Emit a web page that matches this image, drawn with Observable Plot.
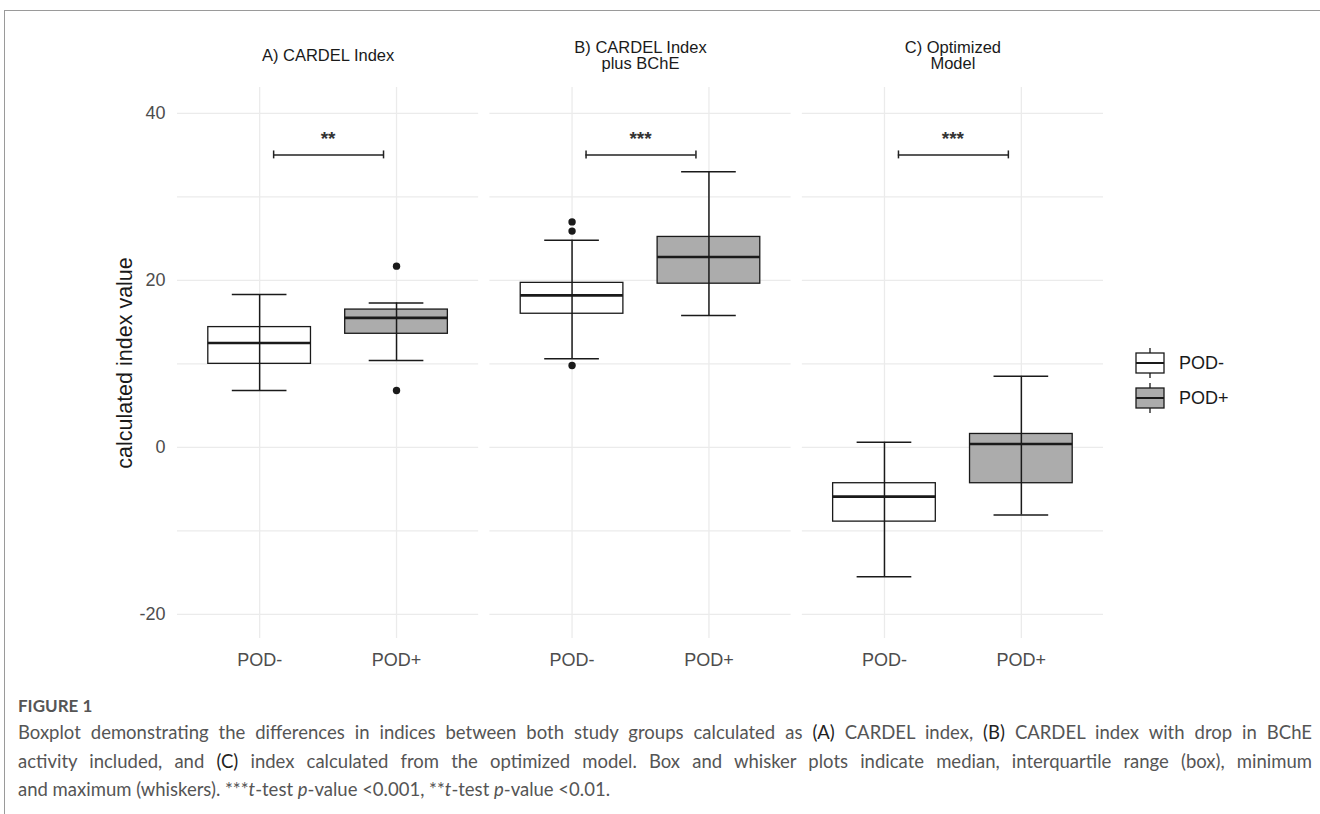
<!DOCTYPE html>
<html>
<head>
<meta charset="utf-8">
<script src="https://cdn.jsdelivr.net/npm/d3@7"></script>
<script src="https://cdn.jsdelivr.net/npm/@observablehq/plot@0.6"></script>
<style>
  html, body { margin: 0; padding: 0; background: #fff; width: 1320px; height: 814px; overflow: hidden; position: relative; }
  #frame { position: absolute; left: 4px; top: 10px; width: 1330px; height: 820px; border-left: 1px solid #9a9a9a; border-top: 1px solid #9a9a9a; }
  #chart { position: absolute; left: 0; top: 0; }
  #legend { position: absolute; left: 1130px; top: 340px; }
  .cap { position: absolute; left: 18px; width: 1294px; font-family: Lato, "Open Sans", sans-serif; font-size: 18.5px; color: #555; line-height: 28.5px; white-space: nowrap; }
  .just { text-align: justify; text-align-last: justify; white-space: normal; }
  .fig { font-weight: 700; font-size: 17px; color: #555; line-height: 28px; }
  .lab { color: #222; }
</style>
</head>
<body>
<div id="frame"></div>
<div id="chart"></div>
<div id="legend"></div>
<div class="cap fig" style="top:692px">FIGURE 1</div>
<div class="cap just" style="top:718px">Boxplot demonstrating the differences in indices between both study groups calculated as <span class="lab">(A)</span> CARDEL index, <span class="lab">(B)</span> CARDEL index with drop in BChE</div>
<div class="cap just" style="top:746.5px">activity included, and <span class="lab">(C)</span> index calculated from the optimized model. Box and whisker plots indicate median, interquartile range (box), minimum</div>
<div class="cap" style="top:775px">and maximum (whiskers). ***<i>t</i>-test <i>p</i>-value &lt;0.001, **<i>t</i>-test <i>p</i>-value &lt;0.01.</div>
<script>
// ---- data ----
const panelKeys = ["A", "B", "C"];
const panelTitles = ["A) CARDEL Index", "B) CARDEL Index\nplus BChE", "C) Optimized\nModel"];
const groups = ["POD-", "POD+"];
const groupFills = ["#ffffff", "#acacac"];

// one entry per box: A POD-, A POD+, B POD-, B POD+, C POD-, C POD+
const boxPanel = ["A", "A", "B", "B", "C", "C"];
const boxGroup = ["POD-", "POD+", "POD-", "POD+", "POD-", "POD+"];
const whiskerLow = [6.8, 10.4, 10.6, 15.8, -15.5, -8.1];
const lowerQuartile = [10.0, 13.6, 16.0, 19.6, -8.9, -4.3];
const medianValue = [12.5, 15.5, 18.2, 22.8, -5.9, 0.4];
const upperQuartile = [14.4, 16.5, 19.7, 25.2, -4.3, 1.6];
const whiskerHigh = [18.3, 17.3, 24.8, 33.0, 0.6, 8.5];

const outlierPanel = ["A", "A", "B", "B", "B"];
const outlierGroup = ["POD+", "POD+", "POD-", "POD-", "POD-"];
const outlierValue = [21.7, 6.8, 27.0, 25.9, 9.8];

const sigLabels = ["**", "***", "***"];
const sigLevel = [35, 35, 35];

const yTickValues = [-20, 0, 20, 40];
const yGridValues = [-20, -10, 0, 10, 20, 30, 40];
const yTitle = "calculated index value";

// ---- tables ----
const boxes = boxPanel.map((p, i) => ({
  panel: p, group: boxGroup[i], low: whiskerLow[i], q1: lowerQuartile[i],
  median: medianValue[i], q3: upperQuartile[i], high: whiskerHigh[i]
}));
const outliers = outlierPanel.map((p, i) => ({panel: p, group: outlierGroup[i], value: outlierValue[i]}));
const sig = panelKeys.map((p, i) => ({panel: p, label: sigLabels[i], level: sigLevel[i], left: groups[0], right: groups[1]}));

const ink = "#1a1a1a";
const gridColor = "#ebebeb";

const chart = Plot.plot({
  width: 1320,
  height: 680,
  marginTop: 87,
  marginBottom: 42,
  marginLeft: 177,
  marginRight: 217,
  style: {fontFamily: '"Liberation Sans", Arial, sans-serif', fontSize: "18px", background: "transparent", overflow: "visible"},
  fx: {domain: panelKeys, paddingInner: 0.036, paddingOuter: 0, axis: null, round: false},
  x: {domain: groups, paddingInner: 0.25, paddingOuter: 0.225, axis: null, round: false},
  y: {domain: [-22.9, 43.1], axis: null},
  color: {domain: groups, range: groupFills},
  marks: [
    Plot.gridY(yGridValues, {stroke: gridColor, strokeOpacity: 1, strokeWidth: 1.3}),
    Plot.gridX(groups, {stroke: gridColor, strokeOpacity: 1, strokeWidth: 1.3}),
    Plot.barY(boxes, {fx: "panel", x: "group", y1: "q1", y2: "q3", fill: "group", stroke: ink, strokeWidth: 1.3}),
    Plot.tickY(boxes, {fx: "panel", x: "group", y: "median", stroke: ink, strokeWidth: 2.6}),
    Plot.ruleX(boxes, {fx: "panel", x: "group", y1: "low", y2: "high", stroke: ink, strokeWidth: 1.5}),
    Plot.tickY(boxes, {fx: "panel", x: "group", y: "low", stroke: ink, strokeWidth: 1.5, insetLeft: 24, insetRight: 24}),
    Plot.tickY(boxes, {fx: "panel", x: "group", y: "high", stroke: ink, strokeWidth: 1.5, insetLeft: 24, insetRight: 24}),
    Plot.dot(outliers, {fx: "panel", x: "group", y: "value", r: 3.7, fill: ink, stroke: null}),
    // significance brackets
    Plot.ruleY(sig, {fx: "panel", y: "level", insetLeft: 96, insetRight: 95, stroke: "#222", strokeWidth: 1.5}),
    Plot.ruleX(sig, {fx: "panel", x: "left", y1: d => d.level - 0.45, y2: d => d.level + 0.5, dx: 14, stroke: "#222", strokeWidth: 1.5}),
    Plot.ruleX(sig, {fx: "panel", x: "right", y1: d => d.level - 0.45, y2: d => d.level + 0.5, dx: -13, stroke: "#222", strokeWidth: 1.5}),
    Plot.text(sig, {fx: "panel", y: d => d.level + 2.0, text: "label", fontSize: 19, fontWeight: "bold", fill: "#333"}),
    // facet strip titles (vertically centred in a common strip)
    Plot.text(panelKeys, {fx: d => d, text: (d, i) => panelTitles[i], frameAnchor: "top", lineAnchor: "middle", dy: -32, fontSize: 16.5, lineHeight: 1.0, fill: ink}),
    // axes
    Plot.axisY({ticks: yTickValues, tickFormat: d => String(d), tickSize: 0, tickPadding: 12, fontSize: 18, color: "#4d4d4d", label: null}),
    Plot.axisX({tickSize: 0, tickPadding: 15, fontSize: 18, color: "#4d4d4d", label: null}),
    Plot.text([yTitle], {fx: () => panelKeys[0], text: d => d, frameAnchor: "left", textAnchor: "middle", rotate: -90, dx: -52, fontSize: 21.5, fill: ink})
  ]
});
document.getElementById("chart").appendChild(chart);

// legend (key glyphs drawn like ggplot's boxplot keys)
const ns = "http://www.w3.org/2000/svg";
const lg = document.createElementNS(ns, "svg");
lg.setAttribute("width", "130");
lg.setAttribute("height", "80");
lg.style.fontFamily = '"Liberation Sans", Arial, sans-serif';
groups.forEach((g, i) => {
  const top = 13 + i * 35;
  const grp = document.createElementNS(ns, "g");
  grp.innerHTML =
    `<line x1="20" x2="20" y1="${top - 5}" y2="${top}" stroke="${ink}" stroke-width="1.3"/>` +
    `<line x1="20" x2="20" y1="${top + 20}" y2="${top + 25}" stroke="${ink}" stroke-width="1.3"/>` +
    `<rect x="6" y="${top}" width="28" height="20" fill="${groupFills[i]}" stroke="${ink}" stroke-width="1.3"/>` +
    `<line x1="6" x2="34" y1="${top + 10}" y2="${top + 10}" stroke="${ink}" stroke-width="2"/>` +
    `<text x="49" y="${top + 10}" dy="0.35em" font-size="18" fill="${ink}">${g}</text>`;
  lg.appendChild(grp);
});
document.getElementById("legend").appendChild(lg);
</script>
</body>
</html>
